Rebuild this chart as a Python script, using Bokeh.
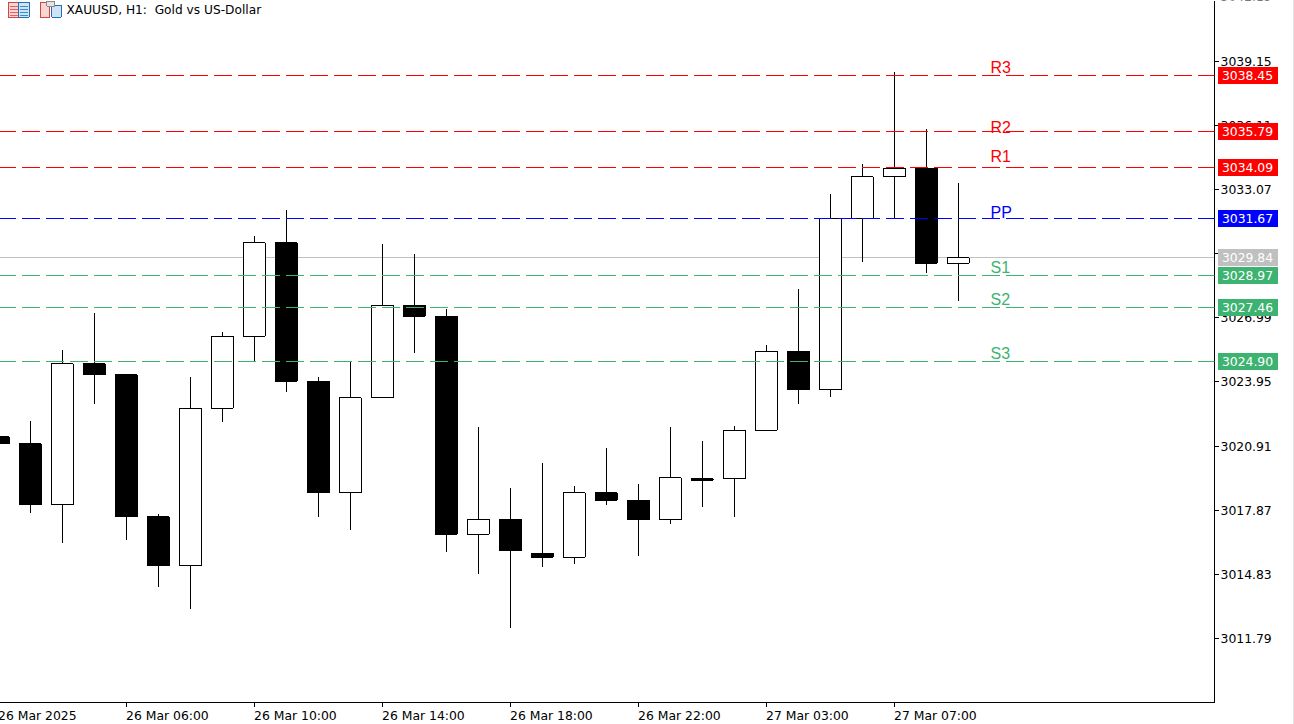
from bokeh.plotting import figure
from bokeh.embed import file_html
from bokeh.resources import INLINE
from bokeh.core.properties import value
from bokeh.models import Span, Label, FixedTicker

symbol_title = "XAUUSD, H1:\u00a0\u00a0Gold vs US-Dollar"

# candles: index -1 is cut by the left edge
candle_index = list(range(-1, 30))
opens = [3021.34, 3021.01, 3018.12, 3024.80, 3024.28, 3017.55, 3015.23, 3022.71, 3026.12, 3030.53, 3023.99,
         3018.69, 3023.19, 3027.59, 3027.07, 3016.74, 3017.45, 3015.84, 3015.65, 3018.69, 3018.35, 3017.41,
         3019.35, 3019.35, 3021.67, 3025.41, 3023.57, 3031.71, 3033.66, 3034.08, 3029.58]
closes = [3021.01, 3018.12, 3024.80, 3024.28, 3017.55, 3015.23, 3022.71, 3026.12, 3030.53, 3023.99, 3018.69,
          3023.19, 3027.59, 3027.07, 3016.74, 3017.45, 3015.94, 3015.65, 3018.69, 3018.35, 3017.41, 3019.40,
          3019.30, 3021.67, 3025.41, 3023.57, 3031.71, 3033.66, 3034.08, 3029.58, 3029.82]
highs = [3021.50, 3022.12, 3025.48, 3027.19, 3024.28, 3017.71, 3024.16, 3026.29, 3030.84, 3032.07, 3024.16,
         3024.87, 3030.50, 3030.03, 3027.38, 3021.79, 3018.90, 3020.13, 3019.04, 3020.84, 3019.09, 3021.79,
         3021.17, 3021.88, 3025.72, 3028.37, 3032.83, 3034.25, 3038.65, 3035.95, 3033.39]
lows = [3020.90, 3017.76, 3016.34, 3022.88, 3016.48, 3014.21, 3013.21, 3022.03, 3024.92, 3023.49, 3017.53,
        3016.91, 3023.19, 3025.34, 3015.91, 3014.87, 3012.27, 3015.20, 3015.30, 3018.14, 3015.68, 3017.24,
        3018.00, 3017.57, 3021.67, 3022.88, 3023.21, 3029.65, 3031.69, 3029.13, 3027.80]

# pivot levels
level_names = ["R3", "R2", "R1", "PP", "S1", "S2", "S3"]
level_values = [3038.45, 3035.79, 3034.09, 3031.67, 3028.97, 3027.46, 3024.90]
level_colors = ["#FF0000", "#FF0000", "#FF0000", "#0000FF", "#3CB371", "#3CB371", "#3CB371"]
level_label_prices = [3038.85, 3036.02, 3034.62, 3031.99, 3029.39, 3027.85, 3025.31]
bid_value = 3029.84

# axes
price_ticks = [3039.15, 3036.11, 3033.07, 3030.03, 3026.99, 3023.95, 3020.91, 3017.87, 3014.83, 3011.79]
clipped_price_tick = 3042.19
time_ticks = [3, 7, 11, 15, 19, 23, 27]
time_labels = ["26 Mar 06:00", "26 Mar 10:00", "26 Mar 14:00", "26 Mar 18:00",
               "26 Mar 22:00", "27 Mar 03:00", "27 Mar 07:00"]
first_time_tick = -1
first_time_label = "26 Mar 2025"

FONT = "DejaVu Sans"
FSIZE = "12.4px"
FW, FH = 1215, 702
PX_PER_BAR, X0_PX = 32.0, 30.5
PX_PER_USD, Y0_PX, Y0_USD = 21.11, 60.5, 3039.15


def X(px):
    return (px - X0_PX) / PX_PER_BAR


def Y(py):
    return Y0_USD - (py - Y0_PX) / PX_PER_USD


p = figure(width=1294, height=724, frame_width=FW, frame_height=FH,
           x_range=(X(0), X(FW)), y_range=(Y(FH), Y(0)),
           output_backend="svg", toolbar_location=None, x_axis_location="below", y_axis_location="right",
           min_border=0, min_border_left=0, min_border_top=0, min_border_right=79, min_border_bottom=22)
p.styles = {"position": "absolute", "left": "-1px", "top": "0px", "border-right": "1px solid #E3E3E3"}
p.grid.visible = False
p.outline_line_color = None
p.background_fill_color = "#FFFFFF"

for ax in (p.xaxis[0], p.yaxis[0]):
    ax.axis_line_color = "#000000"
    ax.major_tick_line_color = "#000000"
    ax.major_tick_in = 0
    ax.major_tick_out = 4
    ax.minor_tick_line_color = None
    ax.major_label_text_font = FONT
    ax.major_label_text_font_size = FSIZE
    ax.major_label_text_color = "#000000"

p.yaxis[0].ticker = FixedTicker(ticks=price_ticks)
p.yaxis[0].major_label_overrides = {v: f"{v:.2f}" for v in price_ticks}
p.yaxis[0].major_label_standoff = 2

p.xaxis[0].ticker = FixedTicker(ticks=time_ticks)
p.xaxis[0].major_label_overrides = dict(zip(time_ticks, [""] * len(time_ticks)))

# bid line sits behind the candles
p.add_layout(Span(location=bid_value, dimension="width", line_color="#C0C0C0", line_width=1, level="underlay"))

# wicks and bodies
p.segment(candle_index, highs, candle_index, lows, line_color="#000000", line_width=1)
body_colors = ["#FFFFFF" if c >= o else "#000000" for o, c in zip(opens, closes)]
p.vbar(x=candle_index, width=22 / PX_PER_BAR, top=opens, bottom=closes,
       fill_color=body_colors, line_color="#000000", line_width=1)

# header
p.add_layout(Label(x=X(67), y=Y(9), text=symbol_title, text_font=FONT, text_font_size="12.2px",
                   text_align="left", text_baseline="middle", text_color="#000000"))

for name, price, col in zip(level_names, level_label_prices, level_colors):
    p.add_layout(Label(x=X(991), y=price, text=name, text_color=col, text_font="Liberation Sans",
                       text_font_size="16px", text_align="left", text_baseline="middle"))

# pivot lines above the candles
for val, col in zip(level_values, level_colors):
    p.add_layout(Span(location=val, dimension="width", line_color=col, line_width=1,
                      line_dash="18 6", line_dash_offset=2))


def box(l, t, r, b, fill, line=None):
    p.quad(left=[X(l)], right=[X(r)], top=[Y(t)], bottom=[Y(b)], fill_color=fill, line_color=line, line_width=1)


# icon: table
box(8.5, 1.5, 19, 16.5, "#F7D6D3", "#D9433E")
box(19, 1.5, 29.5, 16.5, "#CFE3F5", "#1F70B8")
for r in (5, 8, 11, 14):
    box(10, r, 18, r + 1, "#E2625D")
    box(20, r, 28, r + 1, "#3D8BCB")
# icon: templates
box(40.5, 1.5, 50, 16.5, "#F7D6D3", "#D9433E")
box(52, 4.5, 61.5, 16.5, "#CFE3F5", "#1F70B8")
box(47, 0.5, 55, 5.5, "#E4E4E4", "#8A8A8A")

# transparent sheet with the same scales over the whole page: price tags and time labels
q = figure(width=1294, height=724, x_range=(X(0), X(1294)), y_range=(Y(724), Y(0)),
           output_backend="svg", toolbar_location=None, x_axis_location=None, y_axis_location=None,
           min_border=0)
q.styles = {"position": "absolute", "left": "-1px", "top": "0px", "z-index": "2"}
q.grid.visible = False
q.outline_line_color = None
q.background_fill_alpha = 0
q.border_fill_alpha = 0

q.text(x=[X(1221)], y=[clipped_price_tick], text=[f"{clipped_price_tick:.2f}"], text_font=value(FONT),
       text_font_size=value(FSIZE), text_align="left", text_baseline="middle", text_color="#000000")

tag_values = [bid_value] + level_values
tag_colors = ["#C0C0C0"] + level_colors
q.rect(x=X(1248), y=tag_values, width=60, height=17, width_units="screen", height_units="screen",
       fill_color=tag_colors, line_color=None)
q.text(x=X(1248), y=tag_values, text=[f"{v:.2f}" for v in tag_values], text_font=value(FONT),
       text_font_size=value(FSIZE), text_align="center", text_baseline="middle", text_color="#FFFFFF")

q.text(x=[first_time_tick] + time_ticks, y=Y(715), text=[first_time_label] + time_labels, text_font=value(FONT),
       text_font_size=value(FSIZE), text_align="left", text_baseline="middle", text_color="#000000")

html = file_html([p, q], INLINE)
crisp = """<script>
function crispAll(root) {
  root.querySelectorAll('*').forEach(el => {
    if (el.tagName.toLowerCase() === 'svg') el.setAttribute('shape-rendering', 'crispEdges');
    if (el.shadowRoot) crispAll(el.shadowRoot);
  });
}
[100, 400, 1000].forEach(t => setTimeout(() => crispAll(document), t));
</script></body>"""
open("out.html", "w").write(html.replace("</body>", crisp))
